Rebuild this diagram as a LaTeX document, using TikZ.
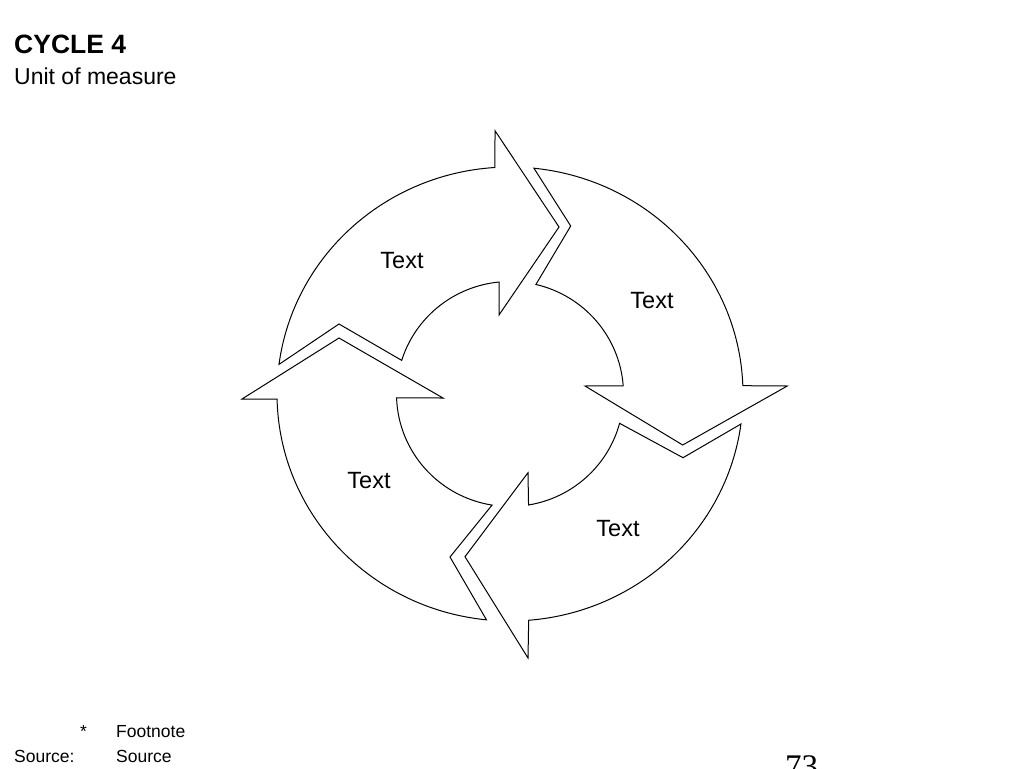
\documentclass[tikz,border=0pt]{standalone}
\usepackage{fontspec}
\setmainfont{Liberation Sans}
\newfontfamily\pagenumfont{Liberation Serif}
\usetikzlibrary{calc}
\begin{document}
\begin{tikzpicture}[x=1pt,y=-1pt,
  cyc/.style={draw=black, line width=1pt, fill=white, line join=miter},
  lbl/.style={font=\fontsize{23.5}{28}\selectfont, inner sep=0pt, anchor=base},
  note/.style={font=\fontsize{17.5}{20}\selectfont, inner sep=0pt, anchor=base west}]
\useasboundingbox (0,0) rectangle (1024,768);
\fill[white] (0,0) rectangle (1024,768);
\coordinate (C) at (510,394);
% top arrow (left side -> top)
\draw[cyc] ($(C)+(187.5:233 and 227)$) arc[start angle=187.5, end angle=266.3, x radius=233, y radius=227]
  -- (495,130.7) -- (559,227) -- (499,315)
  -- ($(C)+(264.5:113.5 and 112.5)$) arc[start angle=264.5, end angle=197.4, x radius=113.5, y radius=112.5]
  -- (339,324) -- cycle;
% right arrow (top -> right)
\draw[cyc] ($(C)+(275.9:233 and 227)$) arc[start angle=275.9, end angle=357.9, x radius=233, y radius=227]
  -- (787.3,386) -- (682.7,445) -- (585,386)
  -- ($(C)+(355.8:113.5 and 112.5)$) arc[start angle=355.8, end angle=283.2, x radius=113.5, y radius=112.5]
  -- (570.7,226) -- cycle;
% bottom arrow (right -> bottom)
\draw[cyc] ($(C)+(7.6:233 and 227)$) arc[start angle=7.6, end angle=85.4, x radius=233, y radius=227]
  -- (528,658) -- (465,556.7) -- (528,472.7)
  -- ($(C)+(80.6:113.5 and 112.5)$) arc[start angle=80.6, end angle=15.1, x radius=113.5, y radius=112.5]
  -- (683,457.7) -- cycle;
% left arrow (bottom -> left)
\draw[cyc] ($(C)+(95.8:233 and 227)$) arc[start angle=95.8, end angle=178.7, x radius=233, y radius=227]
  -- (242,399) -- (339,338) -- (443,398)
  -- ($(C)+(178.0:113.5 and 112.5)$) arc[start angle=178.0, end angle=99.1, x radius=113.5, y radius=112.5]
  -- (450,557) -- cycle;
% labels
\node[lbl] (t1) at (402,268.5) {Text};
\node[lbl] (t2) at (652,308.5) {Text};
\node[lbl] (t3) at (369,488.5) {Text};
\node[lbl] (t4) at (618,536.5) {Text};
% title
\node[inner sep=0pt, anchor=base west, font=\fontsize{26.5}{31}\selectfont\bfseries] (title) at (14,53.5) {CYCLE 4};
\node[inner sep=0pt, anchor=base west, font=\fontsize{23}{27}\selectfont] (unit) at (14,84) {Unit of measure};
% footnotes
\node[note] (star) at (80,737) {*};
\node[note] (fn) at (116,737) {Footnote};
\node[note] (srcl) at (14,762) {Source:};
\node[note] (src) at (116,762) {Source};
\node[inner sep=0pt, anchor=base west, font=\fontsize{33}{36}\selectfont\pagenumfont] (pg) at (785,777.5) {73};
\end{tikzpicture}
\end{document}
